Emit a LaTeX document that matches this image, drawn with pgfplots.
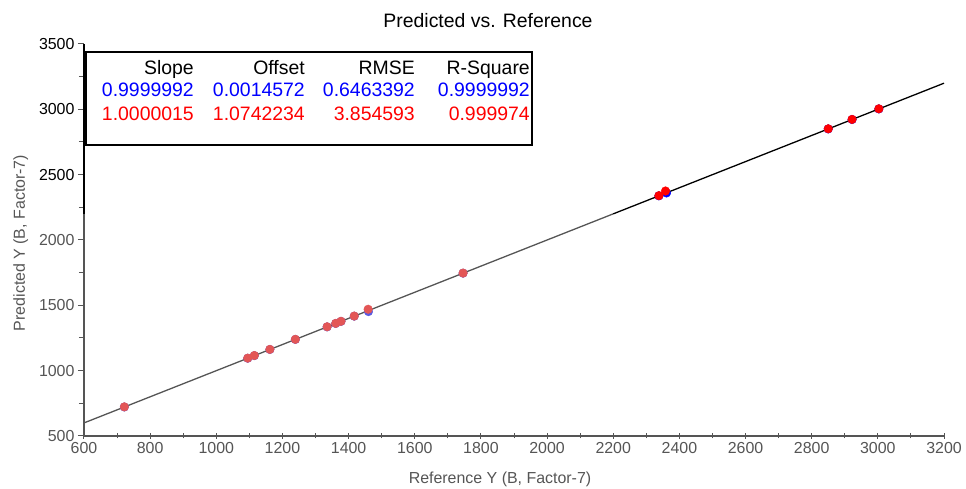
\documentclass[border=0pt]{standalone}
\usepackage{pgfplots}
\pgfplotsset{compat=1.18}
\usepackage{fontspec}
\setmainfont{Liberation Sans}
\definecolor{gr}{HTML}{555555}
\definecolor{fred}{HTML}{E35656}
\definecolor{fblue}{HTML}{5A5AE0}
\begin{document}
\begin{tikzpicture}[x=1bp,y=1bp]
\path[use as bounding box] (-84,-53) rectangle (882,436);
\begin{axis}[
 at={(0,0)}, anchor=south west,
 scale only axis, width=860bp, height=392bp,
 xmin=600,xmax=3200,ymin=500,ymax=3500,
 axis lines=left, axis line style={gr,-,line width=1.2bp},
 xtick={600,800,...,3200}, minor x tick num=1,
 ytick={500,1000,...,3500}, minor y tick num=1,
 yticklabels={{\color{gr}500},{\color{gr}1000},{\color{gr}1500},{\color{gr}2000},2500,3000,3500},
 ytick align=outside, xtick align=center,
 major tick length=6bp, minor tick length=5bp,
 every tick/.style={gr, line width=1bp},
 tick label style={font=\fontsize{16}{19}\selectfont},
 xticklabel style={gr},
 /pgf/number format/1000 sep={}, /pgf/number format/assume math mode=true,
 clip=false,
]
\addplot[gr, line width=1.3bp] coordinates {(600,600)(2200,2200)};
\addplot[black, line width=1.3bp] coordinates {(2200,2200)(3200,3200)};
% blue series (behind)
\addplot[only marks, mark=*, mark size=4.3bp, fblue, mark options={draw=none, fill=fblue}] coordinates {
(722,722)(1095,1095)(1115,1115)(1162,1162)(1239,1239)(1335,1335)(1361,1361)(1377,1377)(1417,1417)(1460,1452)(1746,1746)};
\addplot[only marks, mark=*, mark size=4.3bp, blue, mark options={draw=none, fill=blue}] coordinates {
(2338,2338)(2361,2360)(2850,2850)(2922,2922)(3003,3003)};
% red series (front)
\addplot[only marks, mark=*, mark size=4.3bp, fred, mark options={draw=none, fill=fred}] coordinates {
(722,723)(1095,1096)(1115,1116)(1162,1163)(1239,1240)(1335,1336)(1361,1362)(1377,1378)(1417,1418)(1459,1470)(1746,1747)};
\addplot[only marks, mark=*, mark size=4.3bp, red, mark options={draw=none, fill=red}] coordinates {
(2338,2339)(2358,2375)(2850,2851)(2922,2923)(3003,3004)};
\draw[black, line width=1.2bp] (axis cs:600,2200) -- (axis cs:600,3500);
\end{axis}
\draw[black, line width=1.2bp, fill=white] (2,291) rectangle (448,384);
\begin{scope}[every node/.style={inner sep=0pt, anchor=base east, font=\fontsize{19.5}{23}\selectfont}]
\node at (110,361) {Slope};
\node at (221,361) {Offset};
\node at (331,361) {RMSE};
\node at (446,361) {R-Square};
\node[blue] at (110,339) {0.9999992};
\node[blue] at (221,339) {0.0014572};
\node[blue] at (331,339) {0.6463392};
\node[blue] at (446,339) {0.9999992};
\node[red] at (110,315) {1.0000015};
\node[red] at (221,315) {1.0742234};
\node[red] at (331,315) {3.854593};
\node[red] at (446,315) {0.999974};
\end{scope}
\node[anchor=base, inner sep=0pt, font=\fontsize{19.5}{23}\selectfont] at (404,408) {Predicted vs. Reference};
\node[anchor=base, inner sep=0pt, gr, font=\fontsize{16}{19}\selectfont] at (416,-48) {Reference Y (B, Factor-7)};
\node[anchor=base, inner sep=0pt, gr, rotate=90, font=\fontsize{16}{19}\selectfont] at (-59,193) {Predicted Y (B, Factor-7)};
\end{tikzpicture}
\end{document}
